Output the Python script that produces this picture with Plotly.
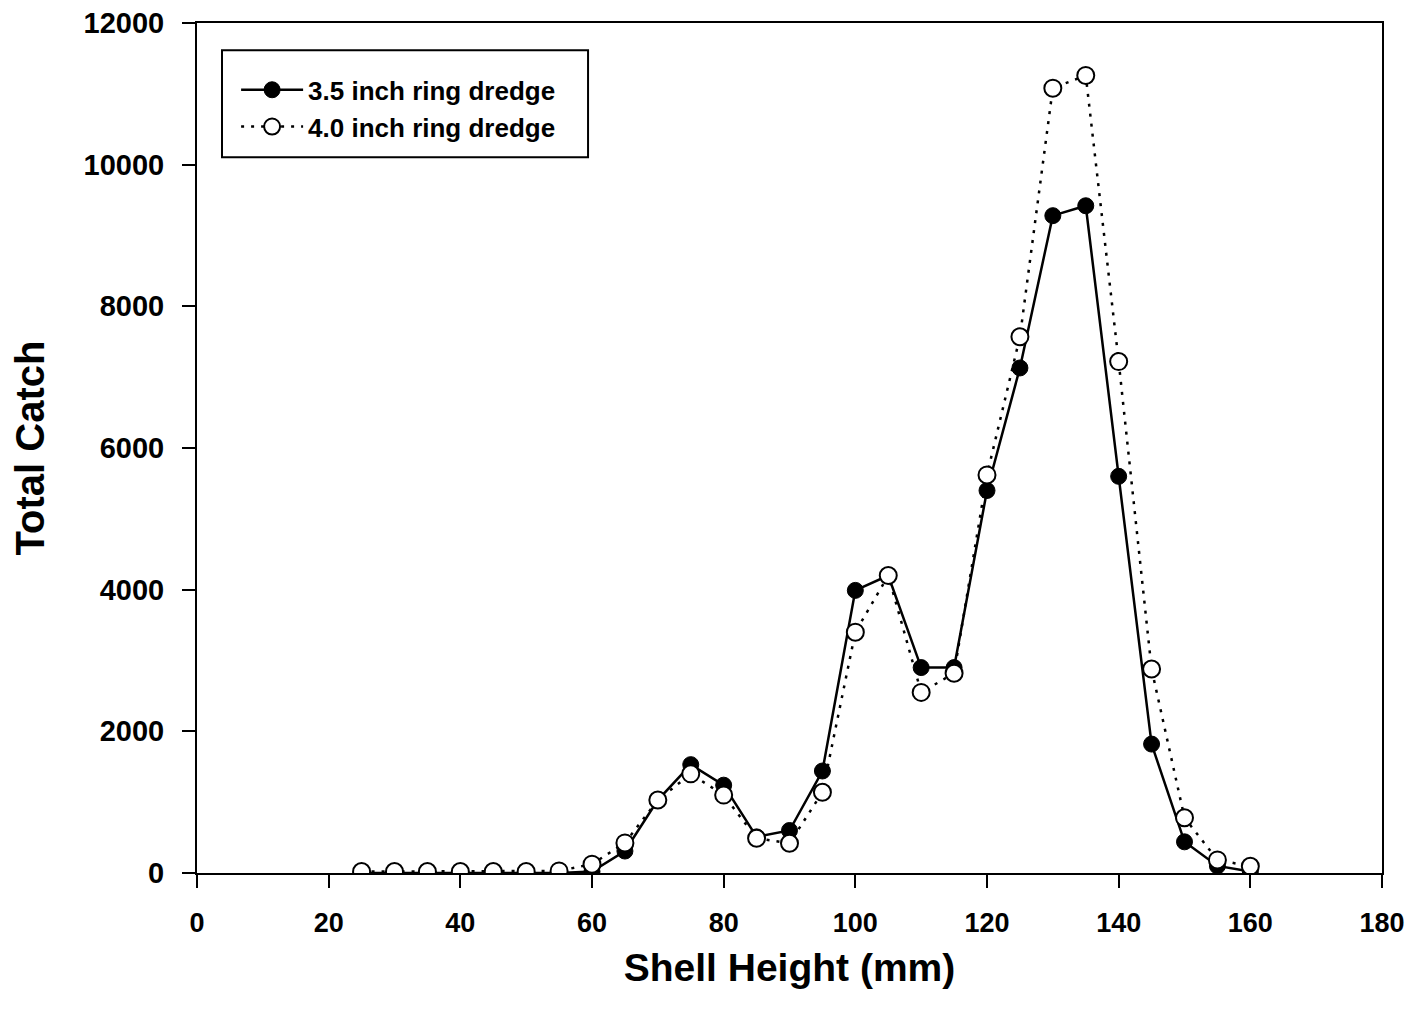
import plotly.graph_objects as go

# shell height classes (mm)
shell_height = [25, 30, 35, 40, 45, 50, 55, 60, 65, 70, 75, 80, 85, 90, 95,
                100, 105, 110, 115, 120, 125, 130, 135, 140, 145, 150, 155, 160]

# total catch per class
catch_35 = [0, 0, 0, 0, 0, 0, 0, 20, 310, 1030, 1530, 1240, 510, 600, 1440,
            3990, 4200, 2900, 2900, 5400, 7130, 9280, 9420, 5600, 1820, 440, 100, 20]
catch_40 = [20, 20, 20, 20, 20, 20, 30, 125, 425, 1030, 1400, 1100, 490, 420, 1140,
            3400, 4200, 2550, 2820, 5620, 7570, 11080, 11260, 7220, 2880, 780, 185, 95]

x_ticks = [0, 20, 40, 60, 80, 100, 120, 140, 160, 180]
y_ticks = [0, 2000, 4000, 6000, 8000, 10000, 12000]
y_labels = ["0", "2000", "4000", "6000", "8000", "10000", "12000"]

fig = go.Figure()

fig.add_trace(go.Scatter(
    x=shell_height, y=catch_35, name="3.5 inch ring dredge",
    mode="lines+markers",
    line=dict(color="black", width=2.5),
    marker=dict(color="black", size=16, line=dict(color="black", width=1)),
))
fig.add_trace(go.Scatter(
    x=shell_height, y=catch_40, name="4.0 inch ring dredge",
    mode="lines+markers",
    line=dict(color="black", width=2.5, dash="3px,7px"),
    marker=dict(color="white", size=17, line=dict(color="black", width=2)),
))

# legend frame drawn separately so it can have roomy padding
fig.add_shape(type="rect", xref="paper", yref="paper",
              x0=0.0211, x1=0.33, y0=0.842, y1=0.968,
              line=dict(color="black", width=2), fillcolor="white", layer="below")

fam = "Liberation Sans"
fig.update_layout(
    width=1426, height=1012,
    margin=dict(l=189, r=52, t=15, b=147),
    paper_bgcolor="white", plot_bgcolor="white",
    font=dict(family=fam, color="black"),
    showlegend=True,
    legend=dict(
        x=0.033, y=0.949, xanchor="left", yanchor="top",
        bgcolor="rgba(0,0,0,0)", borderwidth=0,
        font=dict(family=fam, size=26, color="black", weight="bold"),
        itemwidth=62, tracegroupgap=0,
    ),
    xaxis=dict(
        range=[0, 180], tickvals=x_ticks, ticks="outside", ticklen=13,
        tickwidth=2, tickcolor="black", showgrid=False, zeroline=False,
        showline=True, linecolor="black", linewidth=2, mirror=True,
        ticklabelstandoff=12, automargin=False, ticklabeloverflow="allow",
        tickfont=dict(family=fam, size=27, color="black", weight="bold"),
        title=dict(text="Shell Height (mm)", standoff=16,
                   font=dict(family=fam, size=39, weight="bold")),
    ),
    yaxis=dict(
        range=[0, 12000], tickvals=y_ticks, ticktext=y_labels,
        ticks="outside", ticklen=13,
        tickwidth=2, tickcolor="black", showgrid=False, zeroline=False,
        showline=True, linecolor="black", linewidth=2, mirror=True,
        ticklabelstandoff=12, automargin=False, ticklabeloverflow="allow",
        tickfont=dict(family=fam, size=29, color="black", weight="bold"),
        title=dict(text="Total Catch", standoff=42,
                   font=dict(family=fam, size=40, weight="bold")),
    ),
)

fig.write_html("out.html")
